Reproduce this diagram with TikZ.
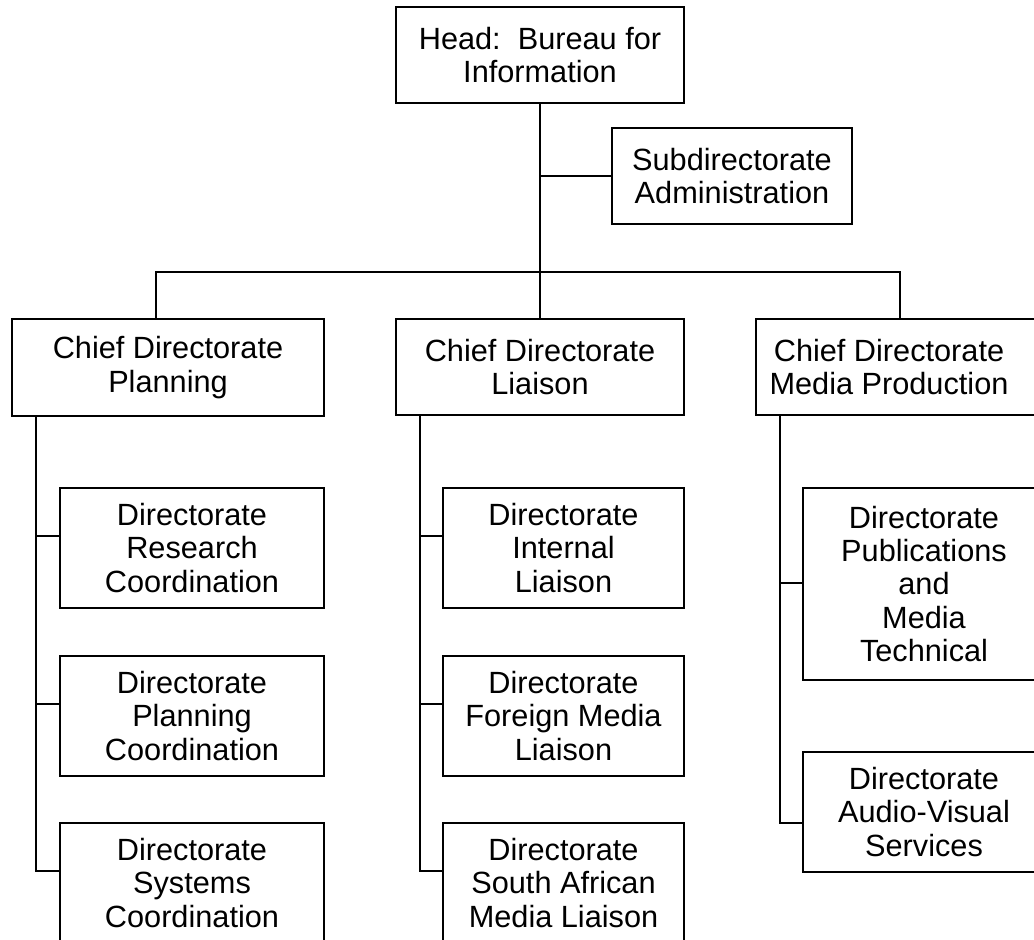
\documentclass[tikz,border=0pt]{standalone}
\usepackage{fontspec}
\setmainfont{Liberation Sans}
\begin{document}
\begin{tikzpicture}[x=1pt,y=-1pt,
  box/.style={draw, line width=2.6pt, inner sep=0pt, align=center,
    font=\fontsize{30.7pt}{33.3pt}\selectfont},
  txt/.style={inner sep=0pt, align=center, font=\fontsize{30.7pt}{33.3pt}\selectfont},
  link/.style={line width=2.6pt}]
\useasboundingbox (0,0) rectangle (1034,940);
\clip (0,0) rectangle (1034,940);
\fill[white] (0,0) rectangle (1034,940);

% top level
\node[box, minimum width=288pt, minimum height=96pt] (head) at (540,55) {Head:\ \ Bureau for\\Information};
\node[box, minimum width=240pt, minimum height=96pt] (sub) at (732,176) {Subdirectorate\\Administration};

% chief directorates
\node[box, minimum width=312pt, minimum height=97pt] (cdp) at (168,367.5) {Chief Directorate\\Planning};
\node[box, minimum width=288pt, minimum height=96pt] (cdl) at (540,367) {Chief Directorate\\Liaison};
\node[box, minimum width=304pt, minimum height=96pt] (cdm) at (908,367) {};
\node[txt] (cdmt) at (889,367) {Chief Directorate\\Media Production};

% planning directorates
\node[box, minimum width=264pt, minimum height=120pt] (res) at (192,548) {Directorate\\Research\\Coordination};
\node[box, minimum width=264pt, minimum height=120pt] (pla) at (192,716) {Directorate\\Planning\\Coordination};
\node[box, minimum width=264pt, minimum height=120pt] (sys) at (192,883) {Directorate\\Systems\\Coordination};

% liaison directorates
\node[box, minimum width=241pt, minimum height=120pt] (int) at (563.5,548) {Directorate\\Internal\\Liaison};
\node[box, minimum width=241pt, minimum height=120pt] (for) at (563.5,716) {Directorate\\Foreign Media\\Liaison};
\node[box, minimum width=241pt, minimum height=120pt] (sa) at (563.5,883) {Directorate\\South African\\Media Liaison};

% media production directorates
\node[box, minimum width=242pt, minimum height=192pt] (pub) at (924,584) {Directorate\\Publications\\and\\Media\\Technical};
\node[box, minimum width=242pt, minimum height=120pt] (av) at (924,812) {Directorate\\Audio-Visual\\Services};

% connector points
\coordinate (s1) at (540,176);
\coordinate (bl) at (156,272);
\coordinate (br) at (900,272);
\coordinate (p1) at (36,536);
\coordinate (p2) at (36,704);
\coordinate (p3) at (36,871);
\coordinate (q1) at (420,536);
\coordinate (q2) at (420,704);
\coordinate (q3) at (420,871);
\coordinate (r1) at (780,583);
\coordinate (r2) at (780,823);

% top connectors
\draw[link] (head.south) -- (cdl.north);
\draw[link] (s1) -- (s1 -| sub.west);
\draw[link] (cdp.north -| bl) |- (br) -- (cdm.north -| br);

% planning spine
\draw[link] (cdp.south -| p3) -- (p3) -- (p3 -| sys.west);
\draw[link] (p1) -- (p1 -| res.west);
\draw[link] (p2) -- (p2 -| pla.west);

% liaison spine
\draw[link] (cdl.south -| q3) -- (q3) -- (q3 -| sa.west);
\draw[link] (q1) -- (q1 -| int.west);
\draw[link] (q2) -- (q2 -| for.west);

% media spine
\draw[link] (cdm.south -| r2) -- (r2) -- (r2 -| av.west);
\draw[link] (r1) -- (r1 -| pub.west);
\end{tikzpicture}
\end{document}
